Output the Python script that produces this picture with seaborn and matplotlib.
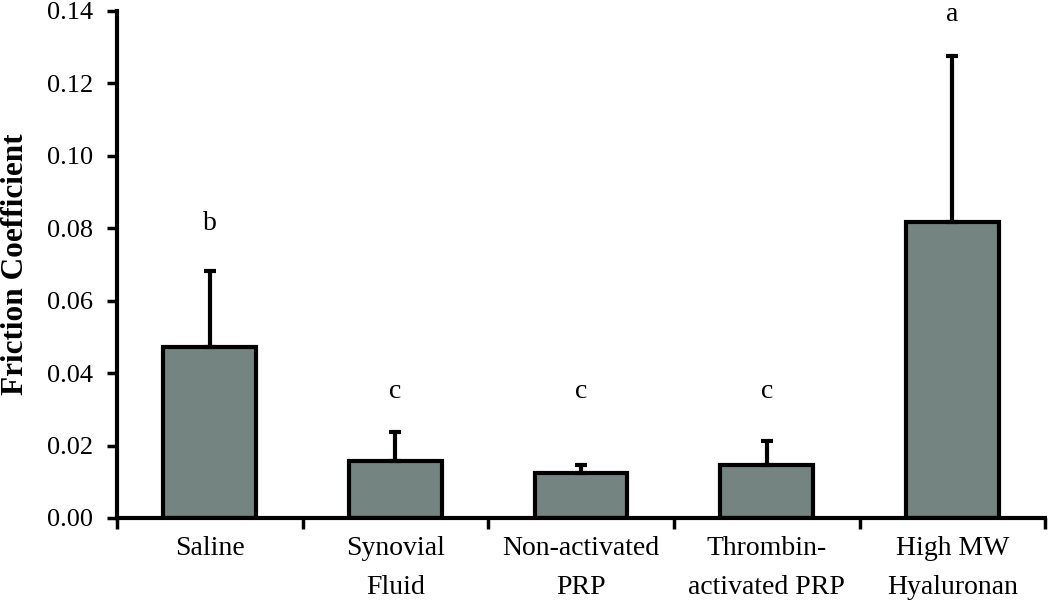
import numpy as np
import pandas as pd
import seaborn as sns
import matplotlib
matplotlib.use('Agg')
import matplotlib.pyplot as plt

groups=['Saline','Synovial\nFluid','Non-activated\nPRP','Thrombin-\nactivated PRP','High MW\nHyaluronan']
means=[0.0472,0.0157,0.0124,0.0146,0.0818]
errs=[0.0210,0.0080,0.0022,0.0067,0.0458]
letters=['b','c','c','c','a']
letter_y=[0.0812,0.0350,0.0350,0.0350,0.1390]

sns.set_theme(style='ticks',rc={'text.color':'black','axes.labelcolor':'black',
                                'xtick.color':'black','ytick.color':'black'})
plt.rcParams['font.family']=['Liberation Serif','DejaVu Serif']

data=pd.DataFrame({'Group':groups,'Friction':means})

fig=plt.figure(figsize=(10.5,6.03),dpi=100)
ax=fig.add_axes([0.1114,0.141,0.884,0.841])
sns.barplot(x='Group',y='Friction',data=data,color='#738481',saturation=1,width=0.5,
            edgecolor='black',linewidth=3,ax=ax,zorder=2)
ax.errorbar(range(len(groups)),means,yerr=[np.zeros(len(errs)),errs],fmt='none',
            ecolor='black',elinewidth=3,capsize=4,capthick=3,zorder=3)
for i,(l,y) in enumerate(zip(letters,letter_y)):
    ax.text(i,y,l,ha='center',va='center',fontsize=20)

ax.set_ylim(0,0.14)
ax.set_xlim(-0.5,len(groups)-0.5)
ax.set_yticks(np.arange(0,0.141,0.02))
ax.set_yticklabels(['%.2f'%v for v in np.arange(0,0.141,0.02)])
ax.set_xticks(np.arange(-0.5,len(groups),1.0),minor=True)
ax.tick_params(axis='x',which='major',length=0,pad=13,labelsize=20)
ax.tick_params(axis='x',which='minor',length=8,width=2.5,direction='out')
ax.tick_params(axis='y',length=7,width=2.5,direction='out',labelsize=19,pad=10)
for t in ax.get_xticklabels():
    t.set_linespacing(1.75)
for s in ['top','right']:
    ax.spines[s].set_visible(False)
for s in ['left','bottom']:
    ax.spines[s].set_linewidth(3)
    ax.spines[s].set_color('black')
ax.set_xlabel('')
ax.set_ylabel('Friction Coefficient',fontsize=22.5,fontweight='bold',labelpad=12)
fig.savefig('out.png',dpi=100)
